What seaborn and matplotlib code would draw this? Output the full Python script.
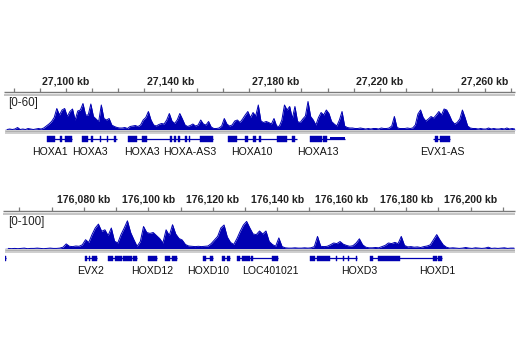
import matplotlib
matplotlib.use("Agg")
import matplotlib.pyplot as plt
import numpy as np
import pandas as pd
import seaborn as sns

# ---------------- HOXA locus ----------------
hoxa_start_kb = 27077          # first 1 kb bin
hoxa_view_kb = (27076.7, 27271.6)
hoxa_scale_max = 60
hoxa_scale_label = "[0-60]"
hoxa_signal = [
    1, 2, 1, 2, 5, 1, 2, 1, 3, 2, 1, 2, 3, 2, 4,
    8, 12, 17, 25, 43, 30, 40, 43, 27, 37,
    42, 20, 38, 40, 53, 30, 30, 52, 27, 22,
    17, 50, 23, 20, 23, 10, 7, 5, 4, 4,
    5, 3, 7, 8, 9, 7, 10, 20, 25, 37,
    20, 10, 8, 11, 13, 12, 20, 33, 18, 13,
    20, 33, 22, 10, 7, 9, 12, 8, 10, 20,
    12, 10, 17, 6, 3, 3, 4, 8, 23, 12,
    8, 10, 18, 20, 15, 22, 30, 37, 25, 35,
    28, 50, 18, 15, 17, 15, 12, 23, 8, 7,
    20, 50, 40, 47, 23, 47, 17, 15, 22, 28,
    57, 27, 20, 10, 25, 35, 30, 40, 33, 17,
    12, 8, 20, 37, 8, 5, 4, 4, 3, 3,
    4, 3, 2, 3, 2, 3, 3, 2, 4, 3,
    3, 4, 8, 27, 5, 3, 3, 3, 4, 3,
    4, 10, 32, 40, 25, 18, 22, 27, 24, 30,
    37, 30, 42, 40, 30, 18, 12, 15, 22, 40,
    25, 8, 4, 3, 3, 2, 3, 2, 2, 4,
    2, 3, 2, 2, 3, 2, 4, 2, 3, 2,
]
hoxa_ticks_kb = list(range(27080, 27271, 10))
hoxa_labelled_kb = [27100, 27140, 27180, 27220, 27260]
hoxa_tick_labels = ["27,100 kb", "27,140 kb", "27,180 kb", "27,220 kb", "27,260 kb"]
hoxa_gene_spans = [(27092.7, 27102.3), (27106.1, 27119.5), (27123.7, 27156.2),
                   (27161.9, 27188.3), (27193.2, 27206.6), (27240.2, 27246.7)]
hoxa_exons = [(27092.7, 27095.8), (27097.7, 27098.5), (27099.6, 27102.3),
              (27106.1, 27108.4), (27109.6, 27110.3), (27113.0, 27113.4),
              (27115.7, 27116.0), (27118.3, 27119.1), (27123.7, 27127.1),
              (27129.0, 27131.0), (27139.7, 27140.5), (27141.3, 27142.0),
              (27142.8, 27143.6), (27145.5, 27146.2), (27147.0, 27147.4),
              (27151.2, 27156.2), (27161.9, 27165.3), (27168.4, 27169.5),
              (27171.5, 27172.6), (27173.7, 27174.5), (27180.6, 27184.4),
              (27186.4, 27187.5), (27193.2, 27197.8), (27198.2, 27199.7),
              (27241.0, 27242.2), (27242.9, 27246.7)]
hoxa_utrs = [(27200.9, 27206.6)]
hoxa_gene_names = ["HOXA1", "HOXA3", "HOXA3", "HOXA-AS3", "HOXA10", "HOXA13", "EVX1-AS"]
hoxa_gene_label_kb = [27093.9, 27109.2, 27129.0, 27147.4, 27171.1, 27196.3, 27243.7]

# ---------------- HOXD locus ----------------
hoxd_start_kb = 176056
hoxd_view_kb = (176055.5, 176213.8)
hoxd_scale_max = 100
hoxd_scale_label = "[0-100]"
hoxd_signal = [
    2, 1, 2, 1, 2, 3, 1, 2, 2, 3, 2, 1, 2, 3, 2, 2, 3,
    6, 17, 9, 8, 10, 9, 14, 31, 22, 48,
    70, 83, 59, 64, 45, 70, 26, 20, 48, 70,
    94, 55, 31, 9, 25, 75, 55, 52, 55, 45,
    35, 20, 64, 45, 81, 50, 35, 30, 15, 10,
    9, 8, 9, 8, 9, 10, 18, 30, 42, 70,
    80, 40, 22, 15, 35, 59, 80, 92, 70, 50,
    48, 60, 50, 60, 25, 15, 9, 37, 8, 4,
    3, 3, 4, 3, 3, 4, 3, 4, 8, 42,
    9, 8, 9, 14, 20, 18, 25, 16, 12, 9,
    11, 20, 34, 14, 6, 4, 4, 5, 4, 8,
    12, 20, 18, 22, 18, 42, 12, 7, 8, 6,
    7, 5, 8, 10, 14, 31, 48, 30, 14, 6,
    3, 4, 3, 2, 3, 5, 3, 2, 4, 3, 2, 3, 6, 2, 3, 2, 3, 4, 2, 3, 3,
]
hoxd_ticks_kb = list(range(176060, 176211, 10))
hoxd_labelled_kb = [176080, 176100, 176120, 176140, 176160, 176180, 176200]
hoxd_tick_labels = ["176,080 kb", "176,100 kb", "176,120 kb", "176,140 kb",
                    "176,160 kb", "176,180 kb", "176,200 kb"]
hoxd_gene_spans = [(176055.5, 176055.9), (176080.3, 176084.0), (176087.5, 176096.5),
                   (176099.9, 176102.7), (176105.2, 176108.9), (176117.0, 176120.1),
                   (176122.9, 176125.3), (176127.5, 176140.2), (176150.2, 176164.8),
                   (176168.8, 176191.2)]
hoxd_exons = [(176055.5, 176055.9), (176080.3, 176080.9), (176081.6, 176081.9),
              (176082.5, 176084.0), (176087.5, 176089.0), (176089.6, 176091.8),
              (176092.1, 176094.9), (176095.2, 176096.5), (176099.9, 176102.7),
              (176105.2, 176106.7), (176107.3, 176108.9), (176117.0, 176117.9),
              (176119.1, 176120.1), (176122.9, 176123.8), (176124.4, 176125.3),
              (176127.5, 176128.4), (176129.1, 176131.6), (176131.9, 176132.5),
              (176138.4, 176140.2), (176150.2, 176151.7), (176152.4, 176156.4),
              (176158.3, 176158.6), (176160.4, 176160.7), (176162.0, 176162.3),
              (176164.5, 176164.8), (176168.8, 176169.8), (176171.3, 176178.1),
              (176188.4, 176189.6), (176189.9, 176191.2)]
hoxd_utrs = []
hoxd_gene_names = ["EVX2", "HOXD12", "HOXD10", "LOC401021", "HOXD3", "HOXD1"]
hoxd_gene_label_kb = [176082.2, 176101.1, 176118.5, 176137.8, 176165.4, 176189.6]

# ---------------- styling ----------------
sns.set_theme(style="white")
plt.rcParams["font.family"] = ["Liberation Sans", "DejaVu Sans"]
TRACK_BLUE = "#0000b2"
RULER_DARK = "#7a7a7a"
RULER_LIGHT = "#c4c4c4"

W, H = 520, 350
fig = plt.figure(figsize=(W / 100, H / 100), dpi=100)
fig.patch.set_facecolor("white")


def px_axes(x0, y0, x1, y1):
    """Axes occupying a pixel box (origin top-left)."""
    ax = fig.add_axes([x0 / W, 1 - y1 / H, (x1 - x0) / W, (y1 - y0) / H])
    ax.set_axis_off()
    return ax


def draw_locus(top, view_kb, ticks_kb, labelled_kb, tick_labels,
               start_kb, signal, scale_max, scale_label,
               spans, exons, utrs, names, name_kb):
    # ruler: pixel rows top .. top+26
    ax_r = px_axes(5, top, 515, top + 26)
    ax_r.set_xlim(*view_kb)
    ax_r.set_ylim(top + 26, top)
    ax_r.hlines(top + 22, view_kb[0] - 0.5, view_kb[1], color=RULER_DARK, lw=1.0, clip_on=False)
    ax_r.hlines(top + 24.6, view_kb[0] - 0.5, view_kb[1], color=RULER_LIGHT, lw=1.4, clip_on=False)
    ax_r.vlines(ticks_kb, top + 18, top + 22, color=RULER_DARK, lw=0.9)
    for kb, lab in zip(labelled_kb, tick_labels):
        ax_r.text(kb, top + 11, lab, ha="center", va="center", fontsize=7.6,
                  fontweight="bold", color="#222222")

    # coverage track
    base = top + 60
    ax_c = px_axes(5, base - 30, 515, base)
    ax_c.set_xlim(*view_kb)
    ax_c.set_ylim(0, scale_max)
    df = pd.DataFrame({"kb": start_kb + np.arange(len(signal)) + 0.5,
                       "signal": signal})
    ax_c.fill_between(df["kb"], 0, df["signal"], color=TRACK_BLUE, lw=0)
    sns.lineplot(data=df, x="kb", y="signal", ax=ax_c, color=TRACK_BLUE,
                 lw=0.7, legend=False)
    ax_c.set_axis_off()
    ax_c.hlines(0.6, *view_kb, color=TRACK_BLUE, lw=1.0)
    fig.text(8 / W, 1 - (top + 33) / H, scale_label, ha="left", va="center",
             fontsize=8.4, color="#222222")

    # grey separator under the coverage
    ax_s = px_axes(5, base, 515, base + 4)
    ax_s.set_xlim(*view_kb)
    ax_s.set_ylim(1, 0)
    ax_s.axhspan(0, 1, color="#cfcfcf", lw=0)
    ax_s.hlines(0.15, *view_kb, color="#b0b0b0", lw=0.8)

    # gene models and names
    g0 = base + 4
    ax_g = px_axes(5, g0, 515, g0 + 24)
    ax_g.set_xlim(*view_kb)
    ax_g.set_ylim(g0 + 24, g0)
    gy = g0 + 5
    for s, e in spans:
        ax_g.hlines(gy, s, e, color=TRACK_BLUE, lw=0.9)
    ax_g.broken_barh([(s, e - s) for s, e in exons], (gy - 2.5, 5),
                     color=TRACK_BLUE, lw=0.3, edgecolor=TRACK_BLUE)
    if utrs:
        ax_g.broken_barh([(s, e - s) for s, e in utrs], (gy - 1.5, 3),
                         color=TRACK_BLUE, lw=0)
    for name, kb in zip(names, name_kb):
        ax_g.text(kb, gy + 13, name, ha="center", va="center", fontsize=7.6,
                  color="#111111")


draw_locus(70, hoxa_view_kb, hoxa_ticks_kb, hoxa_labelled_kb, hoxa_tick_labels,
           hoxa_start_kb, hoxa_signal, hoxa_scale_max, hoxa_scale_label,
           hoxa_gene_spans, hoxa_exons, hoxa_utrs, hoxa_gene_names, hoxa_gene_label_kb)
draw_locus(189, hoxd_view_kb, hoxd_ticks_kb, hoxd_labelled_kb, hoxd_tick_labels,
           hoxd_start_kb, hoxd_signal, hoxd_scale_max, hoxd_scale_label,
           hoxd_gene_spans, hoxd_exons, hoxd_utrs, hoxd_gene_names, hoxd_gene_label_kb)

fig.savefig("out.png", dpi=100, facecolor="white")
